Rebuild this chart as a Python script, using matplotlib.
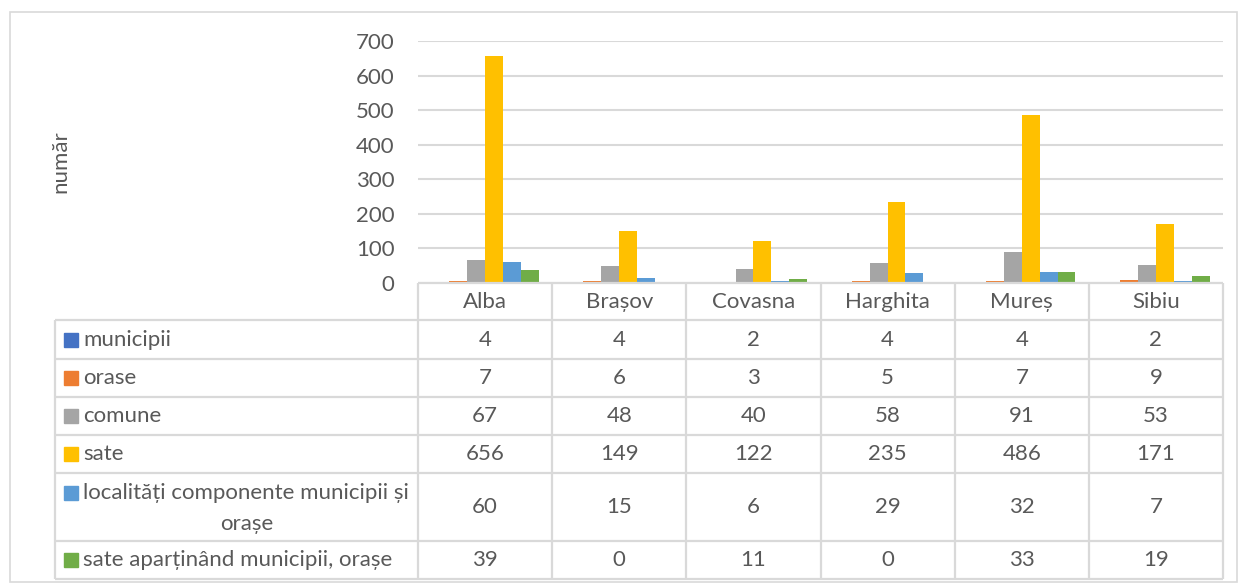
import numpy as np
import matplotlib
matplotlib.use("Agg")
import matplotlib.pyplot as plt
from matplotlib.patches import Rectangle

# data
judete = ["Alba", "Brașov", "Covasna", "Harghita", "Mureș", "Sibiu"]
serii = ["municipii", "orase", "comune", "sate",
         "localități componente municipii și orașe",
         "sate aparținând municipii, orașe"]
municipii = [4, 4, 2, 4, 4, 2]
orase = [7, 6, 3, 5, 7, 9]
comune = [67, 48, 40, 58, 91, 53]
sate = [656, 149, 122, 235, 486, 171]
localitati = [60, 15, 6, 29, 32, 7]
sate_apart = [39, 0, 11, 0, 33, 19]
valori = [municipii, orase, comune, sate, localitati, sate_apart]
culori = ["#4472C4", "#ED7D31", "#A5A5A5", "#FFC000", "#5B9BD5", "#70AD47"]

plt.rcParams['font.family'] = ['Lato', 'DejaVu Sans']
TXT = "#595959"
GRID = "#D9D9D9"
FS = 16

W, H = 1239, 584
fig = plt.figure(figsize=(W / 100, H / 100), dpi=100)

def fx(px):
    return px / W

def fy(py):
    return 1 - py / H

# chart border
fig.patches.append(Rectangle((fx(10), fy(582)), fx(1237) - fx(10), fy(12) - fy(582),
                             transform=fig.transFigure, fill=False,
                             edgecolor=GRID, lw=1.2))

# ---- bar chart ----
X0, X1, YT, YB = 418, 1223, 41, 283
ax = fig.add_axes([fx(X0), fy(YB), fx(X1) - fx(X0), fy(YT) - fy(YB)])
n = len(serii)
bw = 0.8 / n
x = np.arange(len(judete))
for i, (vals, c) in enumerate(zip(valori, culori)):
    ax.bar(x + (i - (n - 1) / 2) * bw, vals, bw, color=c, zorder=3)
ax.set_xlim(-0.5, len(judete) - 0.5)
ax.set_ylim(0, 700)
ax.set_yticks(range(0, 701, 100))
ax.set_xticks([])
ax.grid(axis='y', color=GRID, lw=1.5, zorder=0)
for s in ax.spines.values():
    s.set_visible(False)
ax.tick_params(axis='y', length=0, pad=17, labelsize=FS, labelcolor=TXT)
fig.text(fx(60), fy(162), "număr", rotation=90, ha='center', va='center',
         fontsize=FS, color=TXT)

# ---- data table ----
TL = 55
rows_h = [37, 39, 38, 38, 38, 68, 38]   # header + 6 series
edges = np.concatenate([[YB], YB + np.cumsum(rows_h)])
tax = fig.add_axes([fx(TL), fy(edges[-1]), fx(X1) - fx(TL), fy(YB) - fy(edges[-1])])
colw = (X1 - X0) / len(judete)
left = -0.5 - (X0 - TL) / colw
tax.set_xlim(left, len(judete) - 0.5)
tax.set_ylim(edges[-1], YB)
tax.axis('off')

lk = dict(color=GRID, lw=1.6, solid_capstyle='butt', clip_on=False)
# header
tax.plot([-0.5, len(judete) - 0.5], [YB, YB], **lk)
for j in range(len(judete) + 1):
    tax.plot([j - 0.5, j - 0.5], [YB, edges[-1]], **lk)
tax.plot([left, left], [edges[1], edges[-1]], **lk)
for e in edges[1:]:
    tax.plot([left, len(judete) - 0.5], [e, e], **lk)
for j, name in enumerate(judete):
    tax.text(j, (edges[0] + edges[1]) / 2, name, ha='center', va='center',
             fontsize=FS, color=TXT)

scale = 1 / colw  # px -> data units in x
for i, (name, vals, c) in enumerate(zip(serii, valori, culori)):
    y0, y1 = edges[i + 1], edges[i + 2]
    yc = (y0 + y1) / 2
    ytxt = y0 + 20 if i == 4 else yc
    tax.add_patch(Rectangle((left + (64 - TL) * scale, ytxt - 7), 14 * scale, 14,
                            color=c, clip_on=False))
    if i == 4:
        tax.text(left + (83 - TL) * scale, ytxt, "localități componente municipii și",
                 ha='left', va='center', fontsize=FS, color=TXT)
        tax.text(left + (247 - TL) * scale, ytxt + 31, "orașe",
                 ha='center', va='center', fontsize=FS, color=TXT)
    else:
        tax.text(left + (83 - TL) * scale, ytxt, name, ha='left', va='center',
                 fontsize=FS, color=TXT)
    for j, v in enumerate(vals):
        tax.text(j, yc, str(v), ha='center', va='center', fontsize=FS, color=TXT)

fig.savefig("out.png", dpi=100)
